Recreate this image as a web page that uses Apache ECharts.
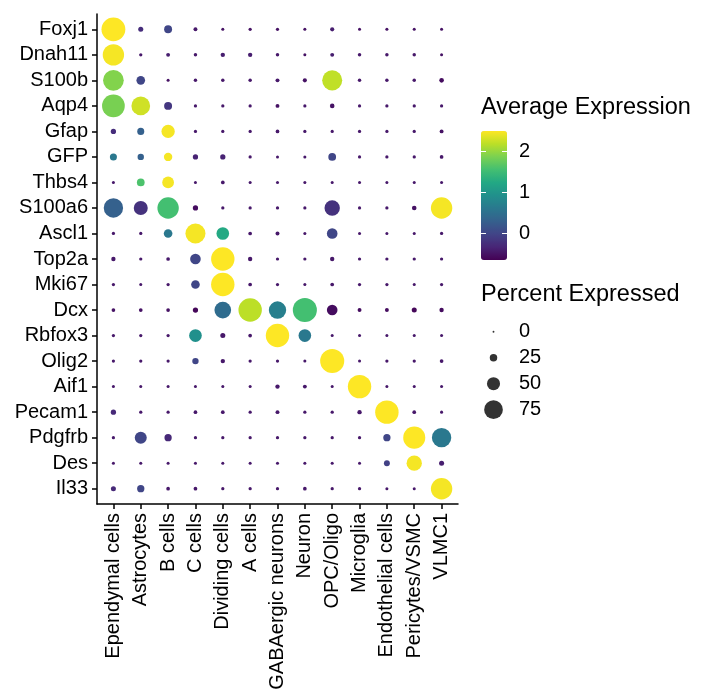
<!DOCTYPE html>
<html>
<head>
<meta charset="utf-8">
<script src="https://cdn.jsdelivr.net/npm/echarts@6/dist/echarts.min.js"></script>
<style>html,body{margin:0;padding:0;background:#fff;}#c{width:708px;height:694px;}</style>
</head>
<body>
<div id="c"></div>
<script>
var cellTypes = ['Ependymal cells','Astrocytes','B cells','C cells','Dividing cells','A cells','GABAergic neurons','Neuron','OPC/Oligo','Microglia','Endothelial cells','Pericytes/VSMC','VLMC1'];
var genes = ['Foxj1','Dnah11','S100b','Aqp4','Gfap','GFP','Thbs4','S100a6','Ascl1','Top2a','Mki67','Dcx','Rbfox3','Olig2','Aif1','Pecam1','Pdgfrb','Des','Il33'];

// percent expressed, one row per gene (columns follow cellTypes)
var pctRows = [
  [98,14,27,9,5,6,6,5,10,5,5,5,5],
  [87,6,9,7,11,11,7,5,9,7,7,7,5],
  [84,30,5,7,7,7,9,10,81,7,7,7,12],
  [93,75,27,6,6,6,9,6,12,6,6,6,6],
  [15,23,51,6,6,6,8,6,6,6,6,6,9],
  [23,20,29,15,15,6,5,5,26,6,6,6,8],
  [5,26,44,5,8,5,5,5,5,5,5,5,5],
  [78,54,87,15,6,6,6,6,60,6,6,12,87],
  [6,6,30,81,48,8,9,5,39,5,5,5,6],
  [11,6,8,39,96,11,6,6,11,6,6,6,6],
  [6,5,6,30,96,8,6,5,8,6,6,5,6],
  [8,8,8,15,66,96,69,99,39,9,9,14,11],
  [6,6,6,48,14,8,96,48,5,5,5,5,5],
  [6,6,6,20,11,6,6,5,99,5,6,6,8],
  [5,5,5,5,5,5,11,9,5,96,5,5,5],
  [15,6,6,8,8,6,9,6,6,11,96,8,5],
  [6,45,24,6,6,6,6,6,6,6,24,90,78],
  [5,5,5,5,5,5,5,5,5,5,18,60,14],
  [14,24,8,8,6,6,6,8,6,6,5,5,87]
];

// average expression, one row per gene
var avgRows = [
  [2.49,-0.25,0.0,-0.45,-0.5,-0.5,-0.5,-0.5,-0.4,-0.5,-0.5,-0.5,-0.5],
  [2.45,-0.45,-0.4,-0.45,-0.4,-0.4,-0.45,-0.5,-0.4,-0.45,-0.45,-0.45,-0.5],
  [1.9,0.0,-0.5,-0.45,-0.45,-0.45,-0.45,-0.5,2.2,-0.45,-0.45,-0.45,-0.55],
  [1.85,2.27,-0.15,-0.45,-0.45,-0.45,-0.5,-0.45,-0.5,-0.45,-0.45,-0.45,-0.45],
  [-0.25,0.3,2.45,-0.45,-0.45,-0.45,-0.45,-0.45,-0.45,-0.45,-0.45,-0.45,-0.5],
  [0.6,0.3,2.45,-0.35,-0.35,-0.45,-0.45,-0.45,0.0,-0.45,-0.45,-0.45,-0.45],
  [-0.45,1.6,2.45,-0.45,-0.45,-0.45,-0.45,-0.45,-0.45,-0.45,-0.45,-0.45,-0.45],
  [0.3,-0.2,1.55,-0.55,-0.45,-0.45,-0.45,-0.45,-0.2,-0.45,-0.45,-0.5,2.45],
  [-0.45,-0.45,0.6,2.45,1.25,-0.45,-0.45,-0.45,0.0,-0.45,-0.45,-0.45,-0.45],
  [-0.45,-0.45,-0.45,0.0,2.49,-0.45,-0.45,-0.45,-0.45,-0.45,-0.45,-0.45,-0.45],
  [-0.45,-0.45,-0.45,0.0,2.49,-0.45,-0.45,-0.45,-0.45,-0.45,-0.45,-0.45,-0.45],
  [-0.5,-0.5,-0.5,-0.6,0.45,2.18,0.7,1.55,-0.55,-0.55,-0.55,-0.6,-0.55],
  [-0.45,-0.45,-0.45,0.92,-0.45,-0.45,2.49,0.6,-0.45,-0.45,-0.45,-0.45,-0.45],
  [-0.45,-0.45,-0.45,0.0,-0.45,-0.45,-0.45,-0.45,2.49,-0.45,-0.45,-0.45,-0.45],
  [-0.45,-0.45,-0.45,-0.45,-0.45,-0.45,-0.45,-0.45,-0.45,2.49,-0.45,-0.45,-0.45],
  [-0.3,-0.45,-0.45,-0.45,-0.45,-0.45,-0.45,-0.45,-0.45,-0.45,2.49,-0.45,-0.45],
  [-0.45,0.0,-0.3,-0.45,-0.45,-0.45,-0.45,-0.45,-0.45,-0.45,0.0,2.49,0.6],
  [-0.45,-0.45,-0.45,-0.45,-0.45,-0.45,-0.45,-0.45,-0.45,-0.45,-0.05,2.45,-0.4],
  [-0.3,0.0,-0.45,-0.45,-0.45,-0.45,-0.45,-0.45,-0.45,-0.45,-0.45,-0.45,2.45]
];

var colorTicks = [0, 1, 2];
var sizeLegendValues = [0, 25, 50, 75];
var viridis = ['#440154','#482576','#414487','#35608D','#2A788E','#21908C','#22A884','#43BF71','#7AD151','#BBDF27','#FDE725'];

function dotSize(p) { return 1.9 + 0.224 * p; }

var mainData = [];
for (var i = 0; i < genes.length; i++) {
  for (var j = 0; j < cellTypes.length; j++) {
    mainData.push([j, i, avgRows[i][j], pctRows[i][j]]);
  }
}
var xIdx = cellTypes.map(function (_, k) { return k; });
var yIdx = genes.map(function (_, k) { return k; });
var FONT = 'Liberation Sans, Arial, Helvetica, sans-serif';

var chart = echarts.init(document.getElementById('c'));
chart.setOption({
  animation: false,
  backgroundColor: '#fff',
  textStyle: { fontFamily: FONT, color: '#000' },
  title: [
    { text: 'Average Expression', left: 481, top: 96, padding: 0,
      textStyle: { fontFamily: FONT, fontSize: 23.5, fontWeight: 'normal', color: '#000' } },
    { text: 'Percent Expressed', left: 481, top: 283, padding: 0,
      textStyle: { fontFamily: FONT, fontSize: 23.5, fontWeight: 'normal', color: '#000' } }
  ],
  grid: [
    { left: 97, top: 14, right: 250, bottom: 190 },
    { left: 481, top: 131, width: 26, height: 129 },
    { left: 483, top: 318.7, width: 21, height: 104 }
  ],
  xAxis: [
    { type: 'value', gridIndex: 0, min: -0.6, max: 12.6,
      axisLine: { show: true, onZero: false, lineStyle: { color: '#000', width: 1.5 } },
      axisTick: { show: true, length: 5, customValues: xIdx, lineStyle: { color: '#000', width: 1.5 } },
      axisLabel: { customValues: xIdx, rotate: 90, margin: 9, fontSize: 20, color: '#000', fontFamily: FONT,
        formatter: function (v) { return cellTypes[Math.round(v)]; } },
      splitLine: { show: false } },
    { type: 'value', gridIndex: 1, min: 0, max: 1, show: false },
    { type: 'category', gridIndex: 2, data: ['p'], show: false }
  ],
  yAxis: [
    { type: 'value', gridIndex: 0, min: -0.6, max: 18.6, inverse: true,
      axisLine: { show: true, onZero: false, lineStyle: { color: '#000', width: 1.5 } },
      axisTick: { show: true, length: 5, customValues: yIdx, lineStyle: { color: '#000', width: 1.5 } },
      axisLabel: { customValues: yIdx, margin: 9, fontSize: 20, color: '#000', fontFamily: FONT,
        formatter: function (v) { return genes[Math.round(v)]; } },
      splitLine: { show: false } },
    { type: 'value', gridIndex: 1, min: -0.65, max: 2.49, position: 'right', z: 10,
      axisLine: { show: false, onZero: false },
      axisTick: { show: true, inside: true, length: 5, customValues: colorTicks, lineStyle: { color: '#fff', width: 1 } },
      axisLabel: { customValues: colorTicks, margin: 12, fontSize: 20, color: '#000', fontFamily: FONT },
      splitLine: { show: false } },
    { type: 'value', gridIndex: 1, min: -0.65, max: 2.49, position: 'left', z: 10,
      axisLine: { show: false, onZero: false },
      axisTick: { show: true, inside: true, length: 5, customValues: colorTicks, lineStyle: { color: '#fff', width: 1 } },
      axisLabel: { show: false },
      splitLine: { show: false } },
    { type: 'category', gridIndex: 2, inverse: true, position: 'right',
      data: sizeLegendValues.map(String),
      axisLine: { show: false }, axisTick: { show: false },
      axisLabel: { interval: 0, margin: 15, fontSize: 20, color: '#000', fontFamily: FONT },
      splitLine: { show: false } }
  ],
  visualMap: [{
    type: 'continuous', seriesIndex: 0, dimension: 2,
    min: -0.65, max: 2.49, calculable: false, show: true,
    left: 481, top: 131, itemWidth: 26, itemHeight: 129, padding: 0, z: 2,
    text: null, showLabel: false,
    inRange: { color: viridis }
  }],
  series: [
    { type: 'scatter', xAxisIndex: 0, yAxisIndex: 0, data: mainData,
      symbolSize: function (d) { return dotSize(d[3]); },
      itemStyle: { opacity: 1 } },
    { type: 'scatter', xAxisIndex: 2, yAxisIndex: 3,
      data: sizeLegendValues.map(function (v) { return ['p', String(v), v]; }),
      symbolSize: function (d) { return dotSize(d[2]); },
      itemStyle: { color: '#000' } }
  ]
});
</script>
</body>
</html>
